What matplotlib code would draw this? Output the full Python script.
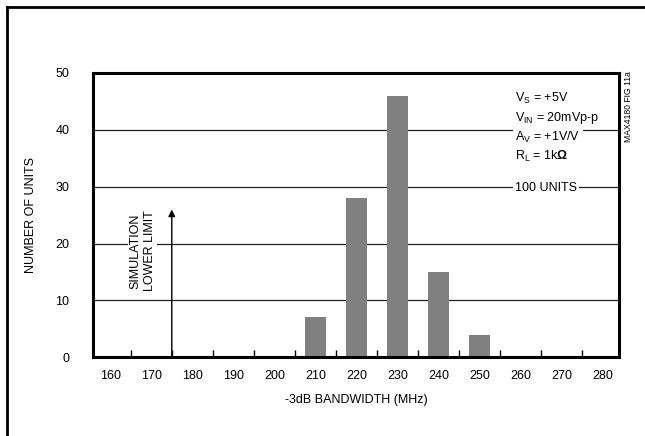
import matplotlib
matplotlib.use('Agg')
import matplotlib.pyplot as plt
from matplotlib.lines import Line2D
from matplotlib import font_manager

names = {f.name for f in font_manager.fontManager.ttflist}
base = 'Liberation Sans Narrow' if 'Liberation Sans Narrow' in names else 'Liberation Sans'
plt.rcParams['font.family'] = [base, 'DejaVu Sans']
plt.rcParams['mathtext.fontset'] = 'custom'
plt.rcParams['mathtext.rm'] = base
plt.rcParams['mathtext.it'] = base
plt.rcParams['mathtext.bf'] = base + ':bold'

# histogram data
bandwidth = [210, 220, 230, 240, 250]
units = [7, 28, 46, 15, 4]
x_labels = [160, 170, 180, 190, 200, 210, 220, 230, 240, 250, 260, 270, 280]
y_labels = [0, 10, 20, 30, 40, 50]
sim_limit = 175
sim_arrow_top = 26

conditions = [r'V$_\mathregular{S}$ = +5V',
              r'V$_\mathregular{IN}$ = 20mVp-p',
              r'A$_\mathregular{V}$ = +1V/V',
              r'R$_\mathregular{L}$ = 1k$\mathbf{\Omega}$']

fs = 9

fig = plt.figure(figsize=(6.45, 4.36), dpi=100)
ax = fig.add_axes([0.1442, 0.1805, 0.8155, 0.6521])

ax.bar(bandwidth, units, width=5, color='#808080', zorder=2)

for y in y_labels[1:-1]:
    ax.axhline(y, color='#222222', lw=0.9, zorder=1)

ax.set_xlim(155.8, 284.0)
ax.set_ylim(0, 50)
ax.set_xticks(x_labels)
ax.set_xticklabels([str(v) for v in x_labels])
ax.set_xticks([v + 5 for v in x_labels[:-1]], minor=True)
ax.set_yticks(y_labels)
ax.tick_params(axis='x', which='major', length=0, pad=9, labelsize=fs)
ax.tick_params(axis='x', which='minor', direction='in', length=5, width=1)
ax.tick_params(axis='y', length=0, pad=17, labelsize=fs)
for s in ax.spines.values():
    s.set_linewidth(2.2)

ax.set_xlabel('-3dB BANDWIDTH (MHz)', fontsize=fs, labelpad=9)
ax.set_ylabel('NUMBER OF UNITS', fontsize=fs, labelpad=13)

# simulation lower limit arrow
ax.annotate('', xy=(sim_limit, sim_arrow_top), xytext=(sim_limit, 0),
            arrowprops=dict(arrowstyle='-|>', color='black', lw=1,
                            mutation_scale=10, shrinkA=0, shrinkB=0),
            zorder=3)
ax.text(167.9, 18.7, 'SIMULATION\nLOWER LIMIT', rotation=90, ha='center',
        va='center', fontsize=fs, linespacing=1.3,
        bbox=dict(facecolor='white', edgecolor='none', pad=1), zorder=3)

# test conditions
y0 = 45.6
for i, c in enumerate(conditions):
    ax.text(258.7, y0 - 3.45 * i, c, ha='left', va='center', fontsize=fs,
            bbox=dict(facecolor='white', edgecolor='none', pad=1.5), zorder=3)
ax.text(258.7, 29.8, '100 UNITS', ha='left', va='center', fontsize=fs,
        bbox=dict(facecolor='white', edgecolor='none', pad=1.5), zorder=3)

fig.text(0.975, 0.755, 'MAX4180 FIG 11a', rotation=90, ha='center',
         va='center', fontsize=6.2)

# outer frame (left and top edges)
fig.add_artist(Line2D([0.0108, 0.0108], [0, 0.984], color='black', lw=2))
fig.add_artist(Line2D([0.0108, 1], [0.984, 0.984], color='black', lw=2))

fig.savefig('out.png', dpi=100)
